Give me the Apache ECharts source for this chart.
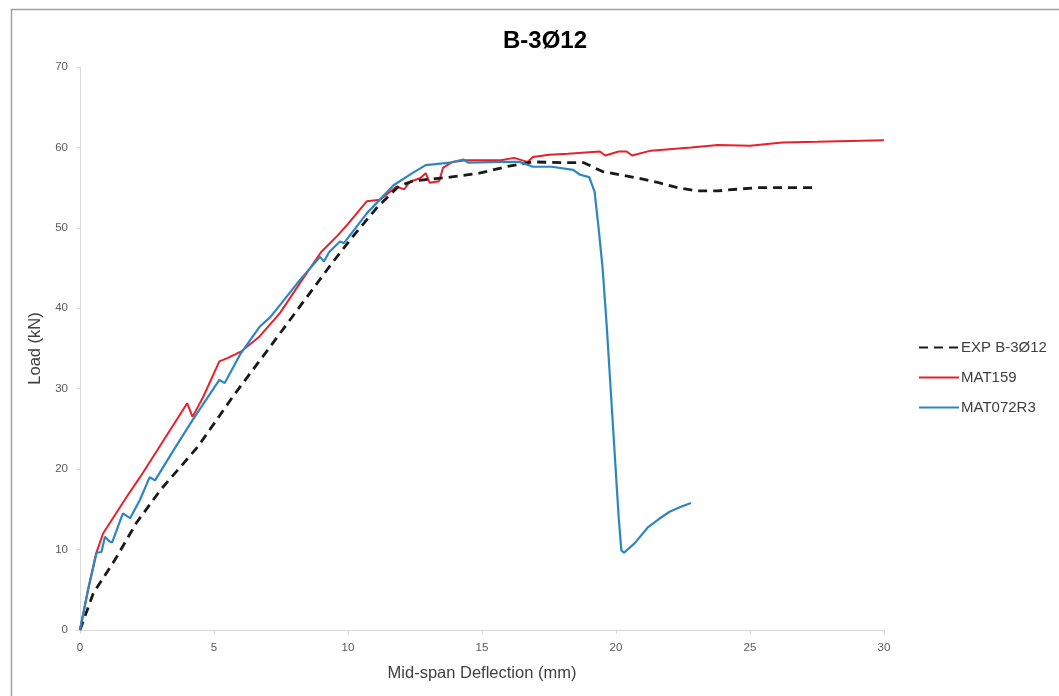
<!DOCTYPE html>
<html>
<head>
<meta charset="utf-8">
<script src="https://cdn.jsdelivr.net/npm/echarts@6/dist/echarts.min.js"></script>
<style>
html,body{margin:0;padding:0;background:#fff;}
#c{width:1059px;height:696px;}
</style>
</head>
<body>
<div id="c"></div>
<script>
const title = "B-3\u00D812";
const seriesNames = ["EXP B-3\u00D812", "MAT159", "MAT072R3"];
const xTicks = [0, 5, 10, 15, 20, 25, 30];
const yTicks = [0, 10, 20, 30, 40, 50, 60, 70];

const expX = [0, 0.5, 1.3, 2.1, 3.0, 4.4, 5.7, 7.0, 8.2, 9.4, 10.2, 11.1, 11.9, 12.4, 12.9, 13.8, 14.9, 15.9, 16.9, 18.0, 18.8, 19.5, 20.8, 21.5, 22.3, 23.0, 23.8, 24.5, 25.3, 26.0, 27.5];
const expY = [0, 4.6, 8.7, 13.3, 17.4, 22.8, 29.0, 34.8, 40.2, 45.6, 49.0, 52.6, 55.2, 55.8, 56.0, 56.3, 56.8, 57.6, 58.2, 58.1, 58.1, 57.0, 56.2, 55.7, 55.0, 54.6, 54.6, 54.8, 55.0, 55.0, 55.0];

const m159X = [0, 0.3, 0.6, 0.86, 1.75, 2.24, 4.0, 4.2, 4.6, 5.2, 5.5, 6.0, 6.7, 7.46, 8.2, 9.0, 9.6, 10.0, 10.7, 11.2, 11.8, 12.1, 12.3, 12.7, 12.9, 13.05, 13.4, 13.55, 13.9, 14.4, 15.7, 16.2, 16.7, 16.9, 17.5, 18.2, 19.4, 19.6, 20.1, 20.4, 20.6, 21.3, 22.8, 23.8, 25.0, 26.2, 27.5, 28.7, 30.0];
const m159Y = [0, 5.0, 9.5, 12.0, 16.6, 19.0, 28.2, 26.5, 29.0, 33.4, 33.8, 34.6, 36.5, 39.4, 43.1, 47.0, 49.0, 50.5, 53.3, 53.5, 55.1, 54.8, 55.7, 56.2, 56.8, 55.6, 55.8, 57.5, 58.2, 58.4, 58.4, 58.7, 58.2, 58.8, 59.1, 59.2, 59.5, 59.0, 59.5, 59.5, 59.0, 59.6, 60.0, 60.3, 60.2, 60.6, 60.7, 60.8, 60.9];

const m072X = [0, 0.3, 0.62, 0.8, 0.93, 1.1, 1.2, 1.6, 1.87, 2.24, 2.6, 2.8, 3.5, 4.2, 5.2, 5.4, 6.0, 6.7, 7.1, 7.46, 8.2, 8.96, 9.1, 9.3, 9.7, 9.85, 10.7, 11.7, 12.4, 12.9, 13.8, 14.3, 14.5, 15.7, 16.4, 16.9, 17.6, 18.4, 18.66, 19.0, 19.2, 19.35, 19.5, 19.65, 19.8, 19.95, 20.1, 20.2, 20.3, 20.7, 21.2, 21.6, 22.0, 22.4, 22.8];
const m072Y = [0, 5.0, 9.6, 9.7, 11.6, 11.0, 10.9, 14.5, 13.9, 16.2, 19.0, 18.6, 22.4, 26.1, 31.1, 30.7, 34.4, 37.7, 38.9, 40.4, 43.5, 46.4, 45.8, 47.0, 48.3, 48.1, 51.8, 55.3, 56.8, 57.8, 58.1, 58.5, 58.1, 58.2, 58.2, 57.6, 57.6, 57.2, 56.6, 56.3, 54.5, 50.0, 45.0, 38.0, 30.0, 22.0, 14.0, 9.9, 9.6, 10.8, 12.8, 13.8, 14.7, 15.3, 15.8];

function pairs(xs, ys) { return xs.map((x, i) => [x, ys[i]]); }

const FONT = 'Liberation Sans, Arial, sans-serif';
const chart = echarts.init(document.getElementById('c'), null, {renderer: 'canvas'});
const axisLabelStyle = {color: '#595959', fontSize: 11.5, fontFamily: FONT};
chart.setOption({
  animation: false,
  backgroundColor: '#fff',
  title: {
    text: title, left: 540, top: 24, textAlign: 'center',
    textStyle: {fontSize: 24, fontWeight: 'bold', color: '#000', fontFamily: FONT}
  },
  graphic: [{
    type: 'rect', left: 9, top: 7, silent: true,
    shape: {width: 1200, height: 800},
    style: {fill: 'none', stroke: '#a0a0a0', lineWidth: 1.5}
  }],
  legend: {
    orient: 'vertical', left: 913, top: 335,
    itemWidth: 40, itemHeight: 14, itemGap: 15,
    itemStyle: {opacity: 0},
    textStyle: {fontSize: 15, color: '#404040', fontFamily: FONT, padding: [0, 0, 0, -3]},
    data: seriesNames
  },
  grid: {left: 80, right: 175, top: 67, bottom: 66},
  xAxis: {
    type: 'value', min: xTicks[0], max: xTicks[xTicks.length - 1], interval: 5,
    name: 'Mid-span Deflection (mm)', nameLocation: 'middle', nameGap: 35,
    nameTextStyle: {fontSize: 16.5, color: '#404040', fontFamily: FONT},
    axisLine: {lineStyle: {color: '#d9d9d9', width: 1}},
    axisTick: {show: true, length: 4, lineStyle: {color: '#d9d9d9'}},
    axisLabel: Object.assign({margin: 12}, axisLabelStyle),
    splitLine: {show: false}
  },
  yAxis: {
    type: 'value', min: yTicks[0], max: yTicks[yTicks.length - 1], interval: 10,
    name: 'Load (kN)', nameLocation: 'middle', nameGap: 33, nameRotate: 90,
    nameTextStyle: {fontSize: 16.5, color: '#404040', fontFamily: FONT},
    axisLine: {show: true, lineStyle: {color: '#d9d9d9', width: 1}},
    axisTick: {show: true, length: 4, lineStyle: {color: '#d9d9d9'}},
    axisLabel: Object.assign({margin: 12}, axisLabelStyle),
    splitLine: {show: false}
  },
  series: [
    {
      name: seriesNames[0], type: 'line', data: pairs(expX, expY),
      showSymbol: false, symbol: 'none',
      lineStyle: {color: '#1a1a1a', width: 2.8, type: [9, 6]},
      itemStyle: {color: '#1a1a1a'}, z: 3
    },
    {
      name: seriesNames[1], type: 'line', data: pairs(m159X, m159Y),
      showSymbol: false, symbol: 'none',
      lineStyle: {color: '#e8202a', width: 2},
      itemStyle: {color: '#e8202a'}, z: 2
    },
    {
      name: seriesNames[2], type: 'line', data: pairs(m072X, m072Y),
      showSymbol: false, symbol: 'none',
      lineStyle: {color: '#2e86c1', width: 2.2},
      itemStyle: {color: '#2e86c1'}, z: 4
    }
  ]
});
</script>
</body>
</html>
